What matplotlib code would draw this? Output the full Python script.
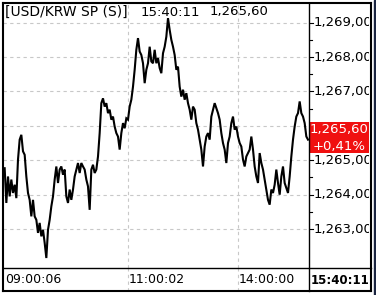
import numpy as np
import matplotlib
matplotlib.use("Agg")
import matplotlib.pyplot as plt
from matplotlib.patches import Rectangle
from matplotlib.lines import Line2D

# USD/KRW spot, one value per sample
prices = [
    1264.77, 1263.76, 1264.53, 1263.95, 1264.44, 1264.05, 1264.29, 1263.90, 1265.02, 1265.60,
    1265.74, 1265.26, 1265.16, 1264.53, 1264.05, 1263.85, 1263.37, 1263.85, 1263.37, 1263.27,
    1262.89, 1263.18, 1262.79, 1262.98, 1262.60, 1262.16, 1262.98, 1263.27, 1263.66, 1263.95,
    1264.44, 1264.82, 1264.34, 1264.73, 1264.82, 1264.58, 1264.73, 1263.95, 1263.76, 1264.15,
    1263.85, 1264.15, 1264.53, 1264.73, 1264.92, 1264.63, 1264.92, 1264.82, 1264.73, 1264.44,
    1264.24, 1263.56, 1264.73, 1264.87, 1264.63, 1264.73, 1265.11, 1265.79, 1266.66, 1266.80,
    1266.56, 1266.66, 1266.37, 1266.47, 1266.18, 1266.27, 1265.98, 1265.79, 1265.69, 1265.31,
    1265.79, 1266.08, 1265.93, 1266.22, 1266.18, 1266.56, 1266.76, 1267.14, 1267.63, 1268.21,
    1268.55, 1268.16, 1268.06, 1267.82, 1267.24, 1267.63, 1267.82, 1268.30, 1267.87, 1267.82,
    1268.21, 1267.82, 1267.97, 1267.68, 1267.53, 1268.11, 1268.30, 1268.59, 1269.13, 1268.79,
    1268.50, 1268.30, 1268.06, 1267.63, 1267.72, 1267.14, 1266.85, 1267.05, 1266.76, 1266.95,
    1266.66, 1266.47, 1266.18, 1266.56, 1266.47, 1266.08, 1265.89, 1265.60, 1265.31, 1264.82,
    1265.40, 1265.69, 1265.79, 1265.60, 1266.27, 1266.47, 1266.66, 1266.51, 1266.37, 1266.18,
    1265.79, 1265.50, 1265.31, 1264.92, 1265.50, 1265.69, 1266.08, 1266.27, 1265.89, 1265.98,
    1265.69, 1265.50, 1265.40, 1265.02, 1264.82, 1265.11, 1265.21, 1265.31, 1265.69, 1265.31,
    1264.82, 1264.53, 1264.34, 1265.21, 1264.92, 1264.73, 1264.44, 1264.15, 1263.85, 1263.71,
    1264.15, 1264.05, 1264.29, 1264.73, 1264.34, 1264.00, 1264.53, 1264.82, 1264.34, 1264.19,
    1264.05, 1264.53, 1265.11, 1265.60, 1265.98, 1266.27, 1266.37, 1266.71, 1266.37, 1266.27,
    1266.08, 1265.69, 1265.60,
]
time_labels = ["09:00:06", "11:00:02", "14:00:00"]
time_idx = [0, 74, 140]
price_ticks = [1263, 1264, 1265, 1266, 1267, 1268, 1269]
last_price = 1265.60
change_pct = 0.41
symbol = "[USD/KRW SP (S)]"
last_time = "15:40:11"

W, H = 376, 295
x = np.arange(len(prices))


def fx(px):
    return px / W


def fy(py):
    return 1 - py / H


def kfmt(v):
    # comma as decimal mark, like the terminal
    return "{:,.2f}".format(v).replace(".", ",")


fig = plt.figure(figsize=(W / 100, H / 100), dpi=100)
fig.patch.set_facecolor("white")

grid_kw = dict(color="#c8c8c8", lw=0.8, linestyle=(0, (3, 3)))

# main price pane
ax = fig.add_axes([fx(3), fy(268), fx(306), 265 / H])
ax.plot(x, prices, color="black", lw=1.5, solid_joinstyle="miter")
ax.set_xlim(-1, 182.6)
ax.set_ylim(1261.87, 1269.57)
for p in price_ticks:
    ax.axhline(p, zorder=0, **grid_kw)
for t in time_idx[1:]:
    ax.axvline(t, zorder=0, **grid_kw)
ax.set_xticks([])
ax.set_yticks([])
for s in ax.spines.values():
    s.set_visible(False)

# header pieces
fig.text(fx(5), fy(12), symbol, fontsize=10, va="center", ha="left")
fig.text(fx(141), fy(12), last_time, fontsize=9.5, va="center", ha="left")
fig.text(fx(210), fy(12), kfmt(last_price), fontsize=9.5, va="center", ha="left")

# price scale with the last-price box
ax2 = fig.add_axes([fx(309), fy(268), fx(60), 265 / H])
ax2.set_ylim(ax.get_ylim())
ax2.set_xlim(0, 60)
ax2.axis("off")
box_mid = last_price + 0.06
box_half = 0.45
for p in price_ticks:
    ax2.plot([0, 4], [p, p], color="black", lw=0.8)
    if abs(p - box_mid) > box_half:
        ax2.text(5, p, kfmt(p), fontsize=9.5, va="center", ha="left", clip_on=True)
for p in np.array(price_ticks[:-1]) + 0.5:
    ax2.plot([0, 3], [p, p], color="black", lw=0.8)
ax2.add_patch(Rectangle((0, box_mid - box_half), 60, 2 * box_half,
                        facecolor="#f01010", edgecolor="none", zorder=3))
ax2.text(30, box_mid + 0.245, kfmt(last_price), fontsize=9.5, color="white",
         ha="center", va="center", zorder=4)
ax2.text(30, box_mid - 0.25, "+{:.2f}%".format(change_pct).replace(".", ","),
         fontsize=9.5, color="white", ha="center", va="center", zorder=4)

# time row
ax3 = fig.add_axes([fx(3), fy(291), fx(306), 23 / H])
ax3.set_xlim(ax.get_xlim())
ax3.set_ylim(0, 1)
ax3.axis("off")
for t in time_idx[1:]:
    ax3.axvline(t, **grid_kw)
for t, lab in zip(time_idx, time_labels):
    ax3.text(t + 0.5, 0.5, lab, fontsize=9, va="center", ha="left")
fig.text(fx(340), fy(280), last_time, fontsize=8.5, fontweight="bold",
         ha="center", va="center")


# frame lines
def seg(x0, y0, x1, y1, lw=1.5):
    fig.add_artist(Line2D([fx(x0), fx(x1)], [fy(y0), fy(y1)], color="black",
                          lw=lw, transform=fig.transFigure))


seg(3, 3, 371, 3)
seg(3, 291, 371, 291)
seg(3, 3, 3, 291)
seg(371, 3, 371, 291)
seg(309, 3, 309, 291, lw=1.0)
seg(3, 268, 371, 268, lw=1.0)
fig.add_artist(Rectangle((fx(374), 0), fx(2), 1, color="#1a2440",
                         transform=fig.transFigure))

fig.savefig("out.png", dpi=100, facecolor="white")
